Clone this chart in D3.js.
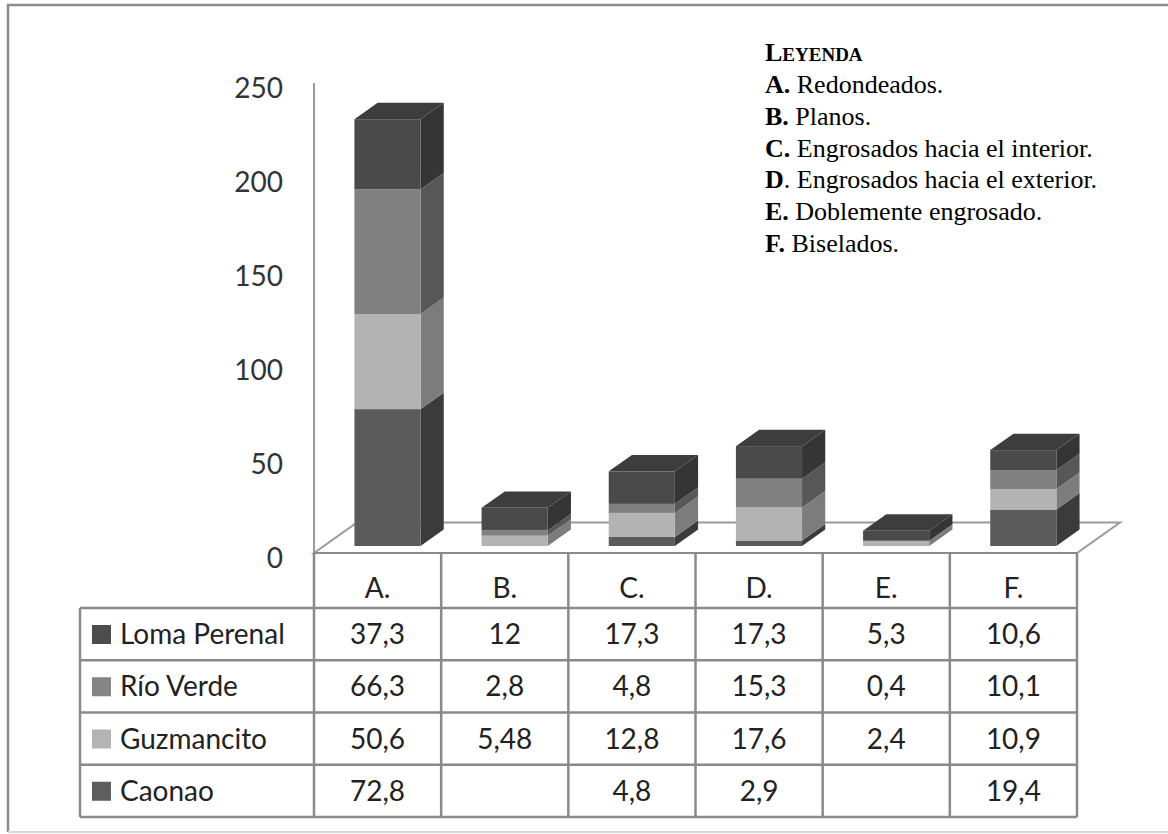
<!DOCTYPE html>
<html>
<head>
<meta charset="utf-8">
<script src="https://cdn.jsdelivr.net/npm/d3@7"></script>
<style>
  body { margin: 0; background: #fff; overflow: hidden; }
  svg { display: block; }
</style>
</head>
<body>
<div id="chart"></div>
<script>
var categories = ["A.", "B.", "C.", "D.", "E.", "F."];
var seriesNames = ["Loma Perenal", "Río Verde", "Guzmancito", "Caonao"];
var lomaPerenal = [37.3, 12, 17.3, 17.3, 5.3, 10.6];
var rioVerde = [66.3, 2.8, 4.8, 15.3, 0.4, 10.1];
var guzmancito = [50.6, 5.48, 12.8, 17.6, 2.4, 10.9];
var caonao = [72.8, null, 4.8, 2.9, null, 19.4];
var yTicks = [0, 50, 100, 150, 200, 250];

var legendKeys = ["A.", "B.", "C.", "D", "E.", "F."];
var legendTexts = [" Redondeados.", " Planos.", " Engrosados hacia el interior.",
    ". Engrosados hacia el exterior.", " Doblemente engrosado.", " Biselados."];

var width = 1168, height = 834;
var svg = d3.select("#chart").append("svg")
    .attr("width", width)
    .attr("height", height);

var front = { Caonao: "#5b5b5b", "Guzmancito": "#b3b3b3", "Río Verde": "#808080", "Loma Perenal": "#4a4a4a" };
var side = { Caonao: "#3b3b3b", "Guzmancito": "#7c7c7c", "Río Verde": "#575757", "Loma Perenal": "#353535" };
var swatch = { Caonao: "#5e5e5e", "Guzmancito": "#b4b4b4", "Río Verde": "#858585", "Loma Perenal": "#4d4d4d" };
var topColor = "#3d3d3d";

var valuesBySeries = {
    "Loma Perenal": lomaPerenal,
    "Río Verde": rioVerde,
    "Guzmancito": guzmancito,
    "Caonao": caonao
};

var rows = categories.map(function (c, i) {
    var r = { cat: c };
    seriesNames.forEach(function (s) { r[s] = valuesBySeries[s][i] || 0; });
    return r;
});

// outer frame: only top and left edges show, the right side runs off the picture
svg.append("path")
    .attr("d", "M8,832 L8,5 L1168,5")
    .attr("fill", "none")
    .attr("stroke", "#8c8c8c")
    .attr("stroke-width", 2.5);
svg.append("line")
    .attr("x1", 8).attr("x2", 1168)
    .attr("y1", 832).attr("y2", 832)
    .attr("stroke", "#d8d8d8")
    .attr("stroke-width", 2);

var plotLeft = 314, plotRight = 1077, floorY = 553;
var depth = { dx: 43, dy: -30.5 };   // floor depth vector
var barNear = 0.23, barFar = 0.77;    // bar placed in the middle of the floor depth

var x = d3.scaleBand()
    .domain(categories)
    .range([plotLeft, plotRight])
    .paddingInner(0.48)
    .paddingOuter(0.24);

var y = d3.scaleLinear()
    .domain([0, 250])
    .range([floorY, floorY - 250 * 1.88]);

// floor
var floor = [
    [plotLeft, floorY],
    [plotLeft + depth.dx, floorY + depth.dy],
    [plotRight + depth.dx, floorY + depth.dy],
    [plotRight, floorY]
];
svg.append("polygon")
    .attr("points", floor.map(function (p) { return p.join(","); }).join(" "))
    .attr("fill", "#fff")
    .attr("stroke", "#9a9a9a")
    .attr("stroke-width", 2);

// vertical axis
svg.append("line")
    .attr("x1", plotLeft).attr("x2", plotLeft)
    .attr("y1", y(250)).attr("y2", floorY)
    .attr("stroke", "#9a9a9a")
    .attr("stroke-width", 2);

var yAxis = svg.append("g")
    .attr("transform", "translate(" + plotLeft + ",0)")
    .call(d3.axisLeft(y).tickValues(yTicks).tickSize(0).tickPadding(31).tickFormat(d3.format("d")));
yAxis.select(".domain").remove();
yAxis.selectAll("text")
    .attr("font-family", "Lato, sans-serif")
    .attr("font-size", 28)
    .attr("fill", "#333")
    .attr("dy", "0.5em");

// stacked 3D bars
var stack = d3.stack().keys(seriesNames.slice().reverse());
var layers = stack(rows);

var nx1 = depth.dx * barNear, ny1 = depth.dy * barNear;
var bdx = depth.dx * (barFar - barNear), bdy = depth.dy * (barFar - barNear);

function pts(a) { return a.map(function (p) { return p.join(","); }).join(" "); }

var bars = svg.append("g").attr("class", "bars");
categories.forEach(function (c, i) {
    var g = bars.append("g");
    var x0 = x(c) + nx1, x1 = x0 + x.bandwidth();
    layers.forEach(function (layer) {
        var d = layer[i];
        if (d[1] - d[0] <= 0) return;
        var yb = y(d[0]) + ny1, yt = y(d[1]) + ny1;
        g.append("polygon")
            .attr("points", pts([[x1, yb], [x1 + bdx, yb + bdy], [x1 + bdx, yt + bdy], [x1, yt]]))
            .attr("fill", side[layer.key]);
        g.append("rect")
            .attr("x", x0).attr("y", yt)
            .attr("width", x.bandwidth()).attr("height", yb - yt)
            .attr("fill", front[layer.key]);
    });
    var topV = layers[layers.length - 1][i][1];
    var yt = y(topV) + ny1;
    g.append("polygon")
        .attr("points", pts([[x0, yt], [x0 + bdx, yt + bdy], [x1 + bdx, yt + bdy], [x1, yt]]))
        .attr("fill", topColor);
});

// data table
var tableLeft = 80;
var headerTop = floorY, headerBottom = 608;
var rowH = 52.25;
var fmt = d3.formatLocale({ decimal: ",", thousands: ".", grouping: [3], currency: ["", ""] }).format("");
var lineColor = "#8a8a8a";
var table = svg.append("g").attr("class", "table")
    .attr("font-family", "Lato, sans-serif")
    .attr("font-size", 28)
    .attr("fill", "#222");

var tableBottom = headerBottom + rowH * seriesNames.length;

// horizontal rules
table.append("line")
    .attr("x1", plotLeft).attr("x2", plotRight)
    .attr("y1", headerTop).attr("y2", headerTop)
    .attr("stroke", lineColor).attr("stroke-width", 2);
d3.range(seriesNames.length + 1).forEach(function (k) {
    var yy = headerBottom + k * rowH;
    table.append("line")
        .attr("x1", tableLeft).attr("x2", plotRight)
        .attr("y1", yy).attr("y2", yy)
        .attr("stroke", lineColor).attr("stroke-width", 2.5);
});
// vertical rules
table.append("line")
    .attr("x1", tableLeft).attr("x2", tableLeft)
    .attr("y1", headerBottom).attr("y2", tableBottom)
    .attr("stroke", lineColor).attr("stroke-width", 2.5);
var colEdges = [plotLeft].concat(categories.map(function (c) { return x(c) + x.bandwidth() + x.step() * 0.24; }));
colEdges.forEach(function (cx) {
    table.append("line")
        .attr("x1", cx).attr("x2", cx)
        .attr("y1", headerTop).attr("y2", tableBottom)
        .attr("stroke", lineColor).attr("stroke-width", 2.5);
});

// header labels
table.selectAll("text.head")
    .data(categories)
    .enter().append("text")
    .attr("class", "head")
    .attr("x", function (d) { return x(d) + x.bandwidth() / 2; })
    .attr("y", 598)
    .attr("text-anchor", "middle")
    .text(function (d) { return d; });

// rows
seriesNames.forEach(function (s, k) {
    var base = headerBottom + k * rowH;
    table.append("rect")
        .attr("x", 92).attr("y", base + 17)
        .attr("width", 19).attr("height", 19)
        .attr("fill", swatch[s]);
    table.append("text")
        .attr("x", 120).attr("y", base + 36)
        .text(s);
    table.selectAll("text.v" + k)
        .data(valuesBySeries[s])
        .enter().append("text")
        .attr("class", "v" + k)
        .attr("x", function (d, i) { return x(categories[i]) + x.bandwidth() / 2; })
        .attr("y", base + 36)
        .attr("text-anchor", "middle")
        .text(function (d) { return d == null ? "" : fmt(d); });
});

// legend box text
var legend = svg.append("g")
    .attr("font-family", "'Liberation Serif', 'Times New Roman', serif")
    .attr("font-size", 26)
    .attr("fill", "#000");
var title = legend.append("text").attr("x", 765).attr("y", 61).attr("font-weight", "bold");
title.append("tspan").attr("font-size", 26).text("L");
title.append("tspan").attr("font-size", 19).text("EYENDA");
legendKeys.forEach(function (k, i) {
    var t = legend.append("text").attr("x", 765).attr("y", 93 + i * 31.8);
    t.append("tspan").attr("font-weight", "bold").text(k);
    t.append("tspan").text(legendTexts[i]);
});
</script>
</body>
</html>
